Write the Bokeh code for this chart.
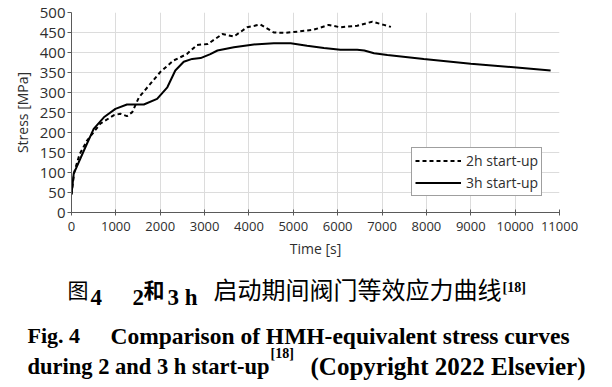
from bokeh.plotting import figure
from bokeh.layouts import column, row
from bokeh.models import Range1d, FixedTicker, Label, Legend, LegendItem
from bokeh.embed import file_html
from bokeh.resources import INLINE

# ---- data ----
t_2h = [0, 60, 180, 350, 650, 950, 1100, 1250, 1370, 1520, 1780, 2000, 2300, 2600,
        2830, 3070, 3400, 3660, 3960, 4260, 4560, 4790, 5090, 5460, 5800, 6060,
        6440, 6780, 7040, 7200]
s_2h = [45, 100, 145, 180, 222, 243, 247, 241, 251, 288, 322, 351, 380, 396,
        419, 421, 446, 440, 463, 470, 450, 449, 452, 457, 469, 463,
        467, 477, 469, 464]

t_3h = [0, 50, 280, 500, 730, 990, 1250, 1630, 1930, 2160, 2340, 2530, 2720, 2910,
        3130, 3290, 3660, 4110, 4560, 4940, 5310, 5690, 6060, 6440, 6600, 6820,
        7120, 7940, 9000, 9970, 10800]
s_3h = [45, 97, 155, 209, 238, 259, 270, 270, 284, 313, 355, 377, 384, 386,
        396, 405, 413, 420, 423, 423, 417, 411, 407, 407, 405, 398,
        394, 384, 372, 363, 355]

x_ticks = [0, 1000, 2000, 3000, 4000, 5000, 6000, 7000, 8000, 9000, 10000, 11000]
y_ticks = [0, 50, 100, 150, 200, 250, 300, 350, 400, 450, 500]

series_labels = ["2h start-up", "3h start-up"]
x_label = "Time [s]"
y_label = "Stress [MPa]"

AX_FONT = "Open Sans"
SERIF = "Liberation Serif"
CJK = "Noto Sans CJK SC"

W = 612
H_TOP = 265
H_CAP = 122

p = figure(width=W, height=H_TOP, output_backend="svg", toolbar_location=None,
           x_range=Range1d(0, 11000), y_range=Range1d(0, 500),
           min_border_left=71, min_border_right=53, min_border_top=12,
           min_border_bottom=53)
p.outline_line_color = None
p.background_fill_color = "white"

# axes
for ax in (p.xaxis[0], p.yaxis[0]):
    ax.axis_line_color = "#5a5a5a"
    ax.major_tick_line_color = "#5a5a5a"
    ax.minor_tick_line_color = None
    ax.major_label_text_font = AX_FONT
    ax.major_label_text_color = "#2e2e2e"
    ax.axis_label_text_font = AX_FONT
    ax.axis_label_text_font_style = "normal"
    ax.axis_label_text_color = "#2e2e2e"
    ax.axis_label_text_font_size = "14px"

p.xaxis.ticker = FixedTicker(ticks=x_ticks)
p.yaxis.ticker = FixedTicker(ticks=y_ticks)
p.xaxis.axis_label = x_label
p.yaxis.axis_label = y_label
p.xaxis.major_label_text_font_size = "13px"
p.yaxis.major_label_text_font_size = "15px"
p.xaxis.major_tick_in = 3
p.xaxis.major_tick_out = 3
p.yaxis.major_tick_in = 0
p.yaxis.major_tick_out = 4
p.xaxis.major_label_standoff = 6
p.yaxis.major_label_standoff = 2
p.xaxis.axis_label_standoff = 5
p.yaxis.axis_label_standoff = 5

p.xgrid.grid_line_color = "#dcdcdc"
p.ygrid.grid_line_color = "#dcdcdc"
p.xgrid.ticker = FixedTicker(ticks=x_ticks)
p.ygrid.ticker = FixedTicker(ticks=y_ticks)

r2 = p.line(t_2h, s_2h, line_color="black", line_width=2, line_dash="4 3")
r3 = p.line(t_3h, s_3h, line_color="black", line_width=2)

legend = Legend(items=[LegendItem(label=series_labels[0], renderers=[r2]),
                       LegendItem(label=series_labels[1], renderers=[r3])],
                location=(340, 16), orientation="vertical")
legend.border_line_color = "#404040"
legend.border_line_width = 1
legend.background_fill_alpha = 1
legend.label_text_font = AX_FONT
legend.label_text_font_size = "14px"
legend.label_text_color = "#2e2e2e"
legend.glyph_width = 46
legend.glyph_height = 17
legend.label_height = 17
legend.padding = 3
legend.spacing = 3
legend.margin = 0
legend.label_standoff = 5
p.add_layout(legend, "center")

# ---- caption panel: its ranges are page pixels (y grows downward) ----
c = figure(width=W, height=H_CAP, output_backend="svg", toolbar_location=None,
           x_range=Range1d(0, W), y_range=Range1d(H_TOP + H_CAP, H_TOP),
           x_axis_type=None, y_axis_type=None,
           min_border_left=0, min_border_right=0, min_border_top=0,
           min_border_bottom=0)
c.grid.visible = False
c.outline_line_color = None


def cap(x, y, text, font, size, style="bold", baseline="alphabetic"):
    c.add_layout(Label(x=x, y=y, text=text,
                       text_font=font, text_font_size=size, text_font_style=style,
                       text_color="black", text_baseline=baseline, text_align="left"))


# line 1 (Chinese)
cap(67, 288, "图", CJK, "21px", "normal", "middle")
cap(90, 297, "4", SERIF, "23px")
cap(132, 297, "2", SERIF, "23px")
cap(143, 288, "和", CJK, "21px", "bold", "middle")
cap(167, 297, "3 h", SERIF, "23px")
cap(213, 288, "启动期间阀门等效应力曲线", CJK, "24px", "normal", "middle")
cap(502, 287, "[18]", SERIF, "14px")

# line 2
cap(27, 335, "Fig. 4", SERIF, "22px")
cap(110, 335, "Comparison of HMH-equivalent stress curves", SERIF, "23.5px")

# line 3
cap(27, 366, "during 2 and 3 h start-up", SERIF, "22.5px")
cap(270, 353, "[18]", SERIF, "14px")
cap(310, 366, "(Copyright 2022 Elsevier)", SERIF, "25px")

layout = column(p, row(c), spacing=0)
open("out.html", "w").write(file_html(layout, INLINE))
